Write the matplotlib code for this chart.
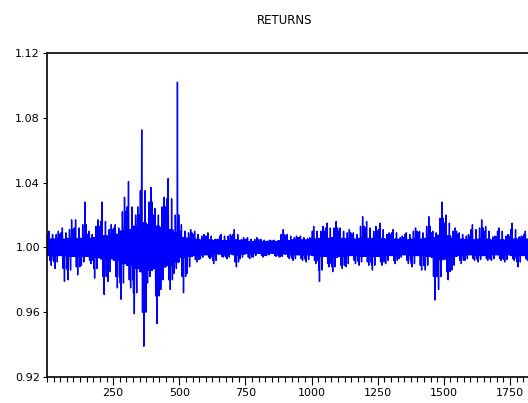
import matplotlib
matplotlib.use("Agg")
import matplotlib.pyplot as plt
from matplotlib.ticker import MultipleLocator, FormatStrFormatter

# returns read from the chart, in blocks of 25 observations
# (deviation from 1.0, in thousandths)
seg_len = 25
seg_high = [10, 10, 12, 17, 17, 28, 10, 17, 28, 14,
            14, 31, 40.6, 25, 72.5, 37, 24, 31, 42.5, 102,
            14, 11, 10, 8, 9, 5, 8, 8, 11, 6,
            6, 6, 5, 4.5, 4.5, 11, 8, 7, 7, 6,
            13, 13, 15, 16, 12, 11, 9, 19, 16, 13,
            15, 9, 11, 7, 9, 12, 10, 19, 10, 28,
            20, 12, 9, 8, 14, 17, 13, 7, 12, 8,
            15, 7, 10]
seg_low = [-11, -13, -21, -20, -17, -11, -10, -19, -29, -21,
           -25, -32, -25, -41, -61, -22, -47, -26, -26, -16,
           -28, -16, -9, -7, -7, -10, -6, -7, -12, -7,
           -7, -6, -6, -5, -5.5, -6, -7, -8, -8, -9,
           -10, -21, -12, -15, -13, -12, -10, -11, -11, -14,
           -11, -10, -10, -7, -10, -12, -14, -14, -32.5, -26,
           -20, -14, -10, -8, -8, -9, -8, -8, -8, -9,
           -8, -12, -8]
seg_mid_high = [8, 8, 9, 11, 12, 14, 8, 13, 16, 11,
                12, 22, 25, 20, 35, 28, 20, 25, 30, 20,
                10, 9, 8, 7, 7, 5, 7, 7, 8, 5,
                5, 5, 4.5, 4, 4, 8, 7, 6, 6, 5.5,
                10, 10, 12, 12, 10, 9, 8, 13, 12, 10,
                11, 8, 9, 6, 8, 10, 9, 13, 9, 18,
                15, 10, 8, 7, 11, 12, 10, 6.5, 10, 7,
                11, 6.5, 8]
seg_mid_low = [-8, -9, -13, -14, -12, -9, -8, -13, -18, -15,
               -18, -22, -20, -28, -40, -18, -30, -20, -20, -13,
               -18, -12, -7.5, -6, -6, -8, -5.5, -6, -9, -6,
               -6, -5, -5, -4.5, -5, -5.5, -6, -7, -7, -7.5,
               -8, -14, -10, -12, -11, -10, -8, -9, -9, -11,
               -9, -8, -8, -6, -8, -10, -11, -11, -18, -18,
               -15, -11, -8, -7, -7, -7.5, -7, -7, -7, -7.5,
               -7, -9, -7]
seg_core = [5, 5, 5, 5.5, 5.5, 5.5, 5.5, 6, 7, 7,
            8, 10, 11, 13, 15, 14, 13, 12, 11, 9,
            6, 5.5, 5, 4.5, 4.5, 4, 4, 4, 4.5, 4,
            3.5, 3.5, 3.5, 3.5, 3.5, 4, 4, 4.5, 4.5, 4.5,
            5, 5.5, 5.5, 6, 5.5, 5, 5, 5.5, 5.5, 5.5,
            5.5, 5, 5, 4.5, 4.5, 5, 5, 5.5, 6, 7.5,
            7, 5.5, 5, 4.5, 4.5, 5, 5, 4.5, 4.5, 4.5,
            5, 5, 5]

y_ticks = [0.92, 0.96, 1.00, 1.04, 1.08, 1.12]
x_ticks = [250, 500, 750, 1000, 1250, 1500, 1750]

# build the observation series from the block readings
obs, returns = [], []
for k in range(len(seg_high)):
    if k % 2 == 0:
        p_hi, p_lo, p_mh, p_ml = 7, 15, (2, 20), (10, 23)
    else:
        p_hi, p_lo, p_mh, p_ml = 17, 4, (9, 22), (1, 13)
    for j in range(seg_len):
        if j == p_hi:
            v = seg_high[k]
        elif j == p_lo:
            v = seg_low[k]
        elif j in p_mh:
            v = seg_mid_high[k]
        elif j in p_ml:
            v = seg_mid_low[k]
        elif j % 2 == 0:
            v = seg_core[k]
        else:
            v = -seg_core[k]
        obs.append(k * seg_len + j + 1)
        returns.append(1 + v / 1000)

plt.rcParams['font.family'] = ['DejaVu Sans']
fig = plt.figure(figsize=(5.28, 4.03), dpi=100)
ax = fig.add_axes([47 / 528, 1 - 377 / 403, 486 / 528, 324 / 403])

ax.plot(obs, returns, color='blue', lw=1.0)

ax.set_xlim(0, 1837)
ax.set_ylim(0.92, 1.12)
ax.set_yticks(y_ticks)
ax.yaxis.set_major_formatter(FormatStrFormatter('%.2f'))
ax.set_xticks(x_ticks)
ax.xaxis.set_minor_locator(MultipleLocator(25))
ax.tick_params(axis='both', direction='out', labelsize=8, color='black', width=0.8, pad=2)
ax.tick_params(axis='x', which='major', length=6)
ax.tick_params(axis='x', which='minor', length=3.5, width=0.8)
ax.tick_params(axis='y', which='major', length=3)
for s in ax.spines.values():
    s.set_linewidth(1.2)
ax.spines['right'].set_visible(False)

fig.text(284.5 / 528, 1 - 20 / 403, 'RETURNS', ha='center', va='center', fontsize=8.5)

fig.savefig('out.png', dpi=100)
